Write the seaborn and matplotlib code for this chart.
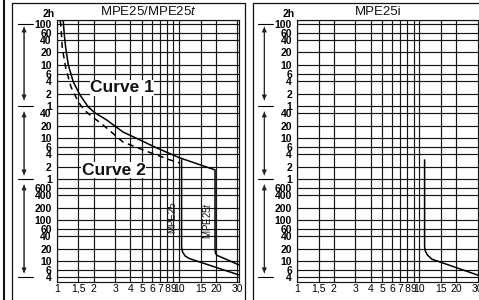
import matplotlib
matplotlib.use("Agg")
import matplotlib.pyplot as plt
import matplotlib.transforms as mtransforms
from matplotlib.lines import Line2D
import seaborn as sns

# ---- axis definitions (multiples of Ir / tripping time in seconds) ----
x_ticks = [1, 1.5, 2, 3, 4, 5, 6, 7, 8, 9, 10, 15, 20, 30]
x_labels = ["1", "1,5", "2", "3", "4", "5", "6", "7", "8", "9", "10", "15", "20", "30"]
y_ticks = [7200, 6000, 3600, 2400, 1200, 600, 360, 240, 120, 60, 40, 20, 10, 6, 4, 2, 1,
           0.6, 0.4, 0.2, 0.1, 0.06, 0.04, 0.02, 0.01, 0.006, 0.004]
y_labels = ["", "100", "60", "40", "20", "10", "6", "4", "2", "1", "40", "20", "10", "6", "4", "2", "1",
            "600", "400", "200", "100", "60", "40", "20", "10", "6", "4"]

# ---- curves ----
# Curve 1 (solid) + MPE25t magnetic part
curve1_I = [1.125, 1.13, 1.154, 1.185, 1.244, 1.367, 1.55, 1.81, 2.06, 2.56, 3.48, 4.80, 6.57, 10.2, 19.7,
            19.7, 19.9, 20.45, 21.6, 30.9]
curve1_t = [9000, 7200, 3190, 1540, 594, 229, 111, 56.5, 40.4, 27.3, 13.9, 8.9, 5.68, 3.24, 1.66,
            0.0187, 0.0154, 0.01377, 0.01287, 0.00808]
# Curve 2 (dashed)
curve2_I = [1.07, 1.084, 1.111, 1.185, 1.309, 1.502, 1.68, 1.87, 2.39, 3.48, 5.08, 8.44, 10.2]
curve2_t = [7200, 4720, 1540, 502, 173, 74.6, 47.7, 36.1, 20.6, 7.95, 5.08, 2.90, 2.45]
# MPE25 magnetic part
mpe25_I = [10.5, 10.5, 10.68, 11.2, 12.07, 13.1, 30.9]
mpe25_t = [2.9, 0.0221, 0.01675, 0.0134, 0.01164, 0.0107, 0.0046]
# MPE25i magnetic curve
mpe25i_I = [11.05, 11.05, 11.2, 11.63, 12.7, 30.9]
mpe25i_t = [2.9, 0.0225, 0.0177, 0.01416, 0.01112, 0.00444]

sns.set_theme(style="white")
plt.rcParams["font.family"] = ["Liberation Sans", "DejaVu Sans"]
plt.rcParams["mathtext.fontset"] = "custom"
plt.rcParams["mathtext.rm"] = "Liberation Sans"
plt.rcParams["mathtext.it"] = "Liberation Sans:italic"

fig = plt.figure(figsize=(4.79, 3.0), dpi=100)
fig.patch.set_facecolor("white")
axL = fig.add_axes([0.1184, 0.06, 0.3808, 0.8717])
axR = fig.add_axes([0.62, 0.06, 0.3808, 0.8717])

GRID = "#151515"
for ax in (axL, axR):
    ax.set_xscale("log")
    ax.set_yscale("log")
    ax.set_xlim(1, 31)
    ax.set_ylim(0.0031, 7200)
    ax.set_xticks(x_ticks)
    ax.set_xticklabels(x_labels, fontsize=7.5, color="black")
    ax.set_yticks(y_ticks)
    ax.set_yticklabels(y_labels, fontsize=7.5, fontweight="bold", color="black")
    ax.minorticks_off()
    ax.tick_params(axis="both", length=0)
    ax.tick_params(axis="y", pad=3.5)
    ax.tick_params(axis="x", pad=1.2)
    ax.grid(True, which="major", color=GRID, lw=0.85)
    for s in ax.spines.values():
        s.set_color(GRID)
        s.set_linewidth(0.85)
    ax.set_facecolor("white")

    trans = mtransforms.blended_transform_factory(ax.transAxes, ax.transData)
    # unit separators
    for sep in [6000, 60, 1, 0.004]:
        ax.plot([-0.212, -0.13], [sep, sep], transform=trans, clip_on=False, color="black", lw=0.8)
    # double arrows
    for top, bot in [(4990, 83.6), (42.7, 1.25), (0.715, 0.00516)]:
        ax.annotate("", xy=(-0.179, top), xytext=(-0.179, bot), xycoords=trans, textcoords=trans,
                    annotation_clip=False,
                    arrowprops=dict(arrowstyle="-|>", color="#222222", lw=0.7,
                                    mutation_scale=7, shrinkA=0, shrinkB=0))
        ax.annotate("", xy=(-0.179, bot), xytext=(-0.179, top), xycoords=trans, textcoords=trans,
                    annotation_clip=False,
                    arrowprops=dict(arrowstyle="-|>", color="#222222", lw=0.7,
                                    mutation_scale=7, shrinkA=0, shrinkB=0))
    ax.text(-0.01, 1.025, "2h", transform=ax.transAxes, ha="right", va="center",
            fontsize=7.5, fontweight="bold", color="black")

# ---- left panel curves ----
sns.lineplot(x=curve1_I, y=curve1_t, ax=axL, sort=False, estimator=None, color="black", lw=1.1)
sns.lineplot(x=curve2_I, y=curve2_t, ax=axL, sort=False, estimator=None, color="black", lw=1.1,
             linestyle=(0, (4, 3)))
sns.lineplot(x=mpe25_I, y=mpe25_t, ax=axL, sort=False, estimator=None, color="black", lw=1.1)
# ---- right panel curve ----
sns.lineplot(x=mpe25i_I, y=mpe25i_t, ax=axR, sort=False, estimator=None, color="black", lw=1.1)

for ax in (axL, axR):
    ax.set_xlabel("")
    ax.set_ylabel("")

axL.text(0.5, 1.0325, "MPE25/MPE25" + r"$\mathit{t}$", transform=axL.transAxes, ha="center",
         va="center", fontsize=9.5, color="#111111")
axR.text(0.444, 1.0325, "MPE25i", transform=axR.transAxes, ha="center", va="center",
         fontsize=9.5, color="#111111")

bb = dict(facecolor="white", edgecolor="none", pad=0.3)
axL.text(0.358, 0.742, "Curve 1", transform=axL.transAxes, ha="center", va="center",
         fontsize=12.5, fontweight="bold", color="#111111", bbox=bb)
axL.text(0.311, 0.428, "Curve 2", transform=axL.transAxes, ha="center", va="center",
         fontsize=12.5, fontweight="bold", color="#111111", bbox=bb)
axL.text(0.636, 0.249, "MPE25", transform=axL.transAxes, ha="center", va="center",
         rotation=90, fontsize=7, color="#111111")
axL.text(0.822, 0.237, "MPE25" + r"$\mathit{t}$", transform=axL.transAxes, ha="center", va="center",
         rotation=90, fontsize=7, color="#111111")

# ---- panel frames ----
W, H = 479.0, 300.0
def fline(xs, ys, lw):
    fig.add_artist(Line2D([x / W for x in xs], [1 - y / H for y in ys], color="#111111", lw=lw,
                          transform=fig.transFigure))

fline([3.5, 3.5], [0, 300], 1.5)
fline([12, 12, 245, 245], [300, 2.5, 2.5, 300], 0.9)
fline([253, 253, 479], [300, 3, 3], 0.9)

fig.savefig("out.png", dpi=100, facecolor="white")
